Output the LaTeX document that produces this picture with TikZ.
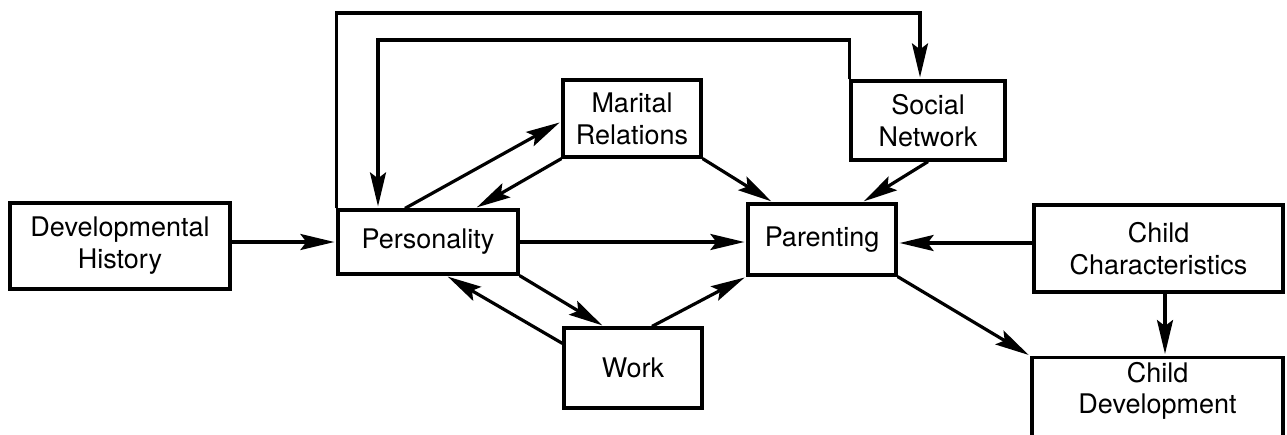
\documentclass[tikz,border=0pt]{standalone}
\usepackage{fontspec}
\setmainfont{TeX Gyre Heros}
\usetikzlibrary{arrows.meta}
\begin{document}
\begin{tikzpicture}[x=1pt,y=-1pt,
  box/.style={draw, line width=3.2pt, rectangle, inner sep=0pt, align=center,
    font=\fontsize{27}{32}\selectfont},
  arr/.style={line width=3.2pt, line join=miter, -{Stealth[length=34pt,width=16pt,inset=6pt]}, shorten >=2pt}]
\useasboundingbox (0,0) rectangle (1287,434);
\node[box, minimum width=220pt, minimum height=86pt] (DH) at (120,246) {Developmental\\History};
\node[box, minimum width=180pt, minimum height=64pt] (P) at (428,242) {Personality};
\node[box, minimum width=138pt, minimum height=77pt] (MR) at (632,118.5) {Marital\\Relations};
\node[box, minimum width=154pt, minimum height=79pt] (SN) at (928,120.5) {Social\\Network};
\node[box, minimum width=148pt, minimum height=71pt] (PA) at (822,239.5) {Parenting};
\node[box, minimum width=249pt, minimum height=87pt] (CC) at (1158.5,248.5) {Child\\Characteristics};
\node[box, minimum width=138pt, minimum height=80pt] (W) at (633,368) {Work};
\node[box, minimum width=251pt, minimum height=90pt, anchor=north] (CD) at (1157.5,356) {};
\node[align=center, inner sep=0pt, font=\fontsize{27}{31}\selectfont] (CDt) at (1157.5,391) {Child\\Development};
% horizontal arrows
\draw[arr] ([yshift=4pt]DH.east) -- (P.west);
\draw[arr] (P.east) -- (P.east -| PA.west);
\draw[arr] ([yshift=5.5pt]CC.west) -- ([yshift=5.5pt]CC.west -| PA.east);
% diagonals
\draw[arr] ([xshift=-23pt]P.north) -- ([yshift=-3pt]MR.west);
\draw[arr] (MR.south west) -- ([xshift=47pt]P.north);
\draw[arr] (MR.south east) -- ([xshift=-49pt]PA.north);
\draw[arr] (SN.south) -- ([xshift=40pt]PA.north);
\draw[arr] (P.south east) -- ([xshift=-29pt]W.north);
\draw[arr] ([yshift=-17pt]W.north west) -- ([xshift=18pt]P.south);
\draw[arr] ([xshift=19pt]W.north) -- (PA.south west);
\draw[arr] (PA.south east) -- (CD.north west);
\draw[arr] ([xshift=6.5pt]CC.south) -- ([xshift=6.5pt]CC.south |- CD.north);
% feedback loops
\coordinate (t1) at (920,13);
\coordinate (t2) at (378,40);
\draw[arr] (P.north west) |- (t1) -- (t1 |- SN.north);
\draw[arr] (SN.north west) |- (t2) -- (t2 |- P.north);
\end{tikzpicture}
\end{document}
